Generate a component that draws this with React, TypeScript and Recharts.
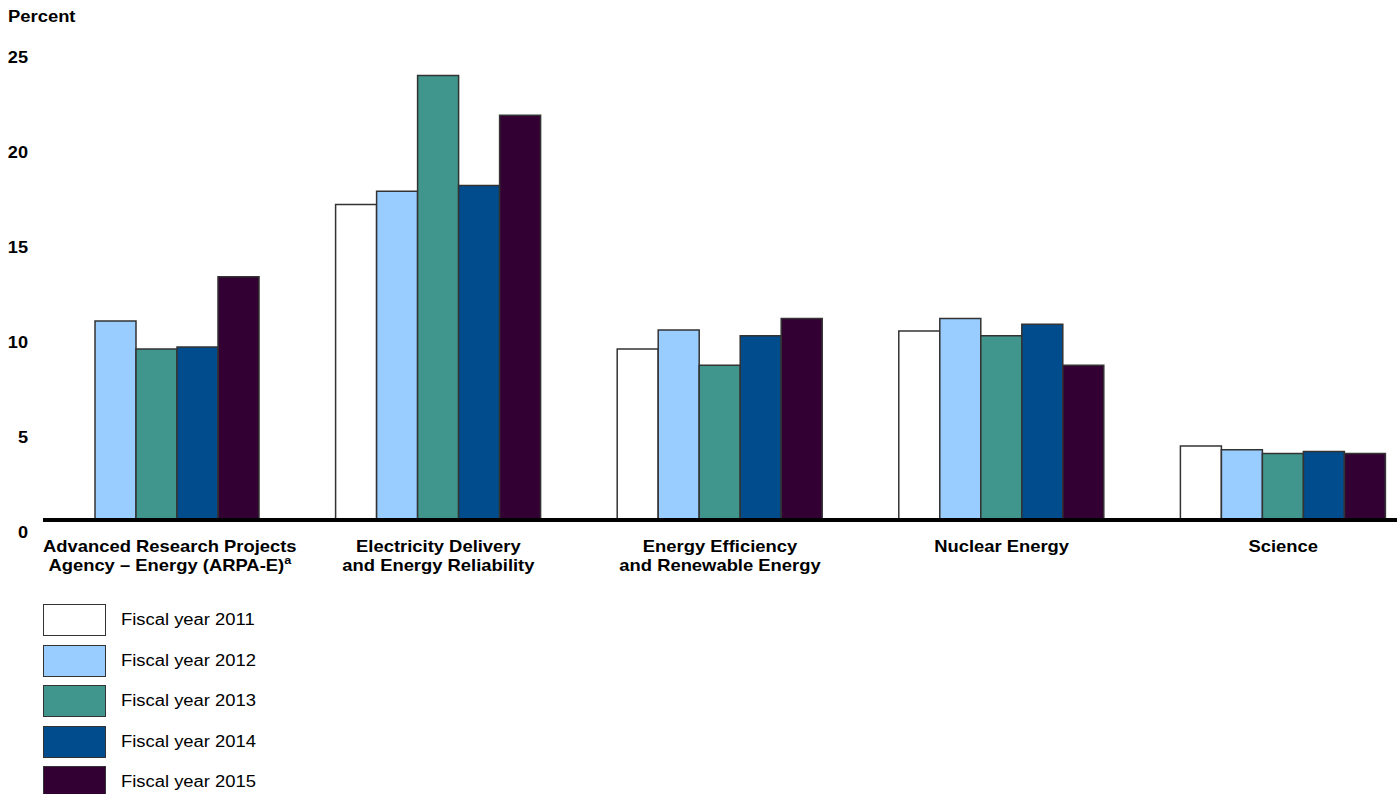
import React from "react";
import { BarChart, Bar, XAxis, YAxis, ReferenceLine } from "recharts";

const categories = [
  "Advanced Research Projects|Agency – Energy (ARPA-E)",
  "Electricity Delivery|and Energy Reliability",
  "Energy Efficiency|and Renewable Energy",
  "Nuclear Energy",
  "Science",
];
const fy2011 = [0, 16.6, 9.0, 9.95, 3.9];
const fy2012 = [10.47, 17.3, 10.0, 10.6, 3.7];
const fy2013 = [9.0, 23.4, 8.15, 9.7, 3.5];
const fy2014 = [9.1, 17.6, 9.7, 10.3, 3.6];
const fy2015 = [12.8, 21.3, 10.6, 8.15, 3.5];
const seriesNames = ["Fiscal year 2011", "Fiscal year 2012", "Fiscal year 2013", "Fiscal year 2014", "Fiscal year 2015"];
const seriesColors = ["#FFFFFF", "#99CCFF", "#40968C", "#004C8C", "#330033"];
const yTicks = [0, 5, 10, 15, 20, 25];

const seriesValues = [fy2011, fy2012, fy2013, fy2014, fy2015];
const data = categories.map((c, i) => {
  const row: any = { name: c };
  seriesValues.forEach((vals, s) => {
    row["s" + s] = vals[i];
  });
  return row;
});

const FONT = "'Liberation Sans', Arial, Helvetica, sans-serif";
const SX = 1.15;

const YTick = (props: any) => {
  const { y, payload } = props;
  return (
    <text
      transform={`translate(28, ${y + 18}) scale(1.1, 1)`}
      textAnchor="end"
      fontFamily={FONT}
      fontWeight="bold"
      fontSize={16.5}
      fill="#000"
    >
      {payload.value}
    </text>
  );
};

const XTick = (props: any) => {
  const { x, y, payload, index } = props;
  const lines = String(payload.value).split("|");
  const dx = index === 0 ? 13 : 0;
  return (
    <g>
      {lines.map((ln, i) => (
        <text
          key={i}
          transform={`translate(${x + dx}, ${y + 32 + i * 19}) scale(${SX}, 1)`}
          textAnchor="middle"
          fontFamily={FONT}
          fontWeight="bold"
          fontSize={16}
          fill="#000"
        >
          {ln}
          {index === 0 && i === 1 ? (
            <tspan fontSize={11} dy={-7}>a</tspan>
          ) : null}
        </text>
      ))}
    </g>
  );
};

const LegendBlock = () => (
  <div style={{ position: "absolute", left: 43, top: 600, fontFamily: FONT }}>
    {seriesNames.map((n, i) => (
      <div key={n} style={{ display: "flex", alignItems: "center", height: 40.5 }}>
        <div
          style={{
            width: 63,
            height: 32,
            background: seriesColors[i],
            border: "1px solid #333",
            boxSizing: "border-box",
            flexShrink: 0,
          }}
        />
        <span
          style={{
            marginLeft: 15,
            fontSize: 16,
            color: "#000",
            display: "inline-block",
            transform: `scaleX(${SX})`,
            transformOrigin: "left center",
            whiteSpace: "nowrap",
          }}
        >
          {n}
        </span>
      </div>
    ))}
  </div>
);

export default function App() {
  return (
    <div style={{ position: "absolute", left: 0, top: 0, width: 1400, height: 794, overflow: "hidden", background: "#fff" }}>
      <div
        style={{
          position: "absolute",
          left: 8,
          top: 8,
          fontFamily: FONT,
          fontWeight: "bold",
          fontSize: 16,
          color: "#000",
          transform: `scaleX(${SX})`,
          transformOrigin: "left center",
          zIndex: 2,
        }}
      >
        Percent
      </div>
      <BarChart
        width={1400}
        height={794}
        data={data}
        margin={{ top: 45, right: 3, bottom: 244, left: 0 }}
        barCategoryGap={38}
        barGap={0}
      >
        <XAxis
          dataKey="name"
          axisLine={false}
          tickLine={false}
          tickSize={0}
          tickMargin={0}
          interval={0}
          height={30}
          padding={{ left: -27, right: -27 }}
          tick={<XTick />}
        />
        <YAxis
          width={43}
          domain={[0, 25]}
          ticks={yTicks}
          axisLine={false}
          tickLine={false}
          tick={<YTick />}
          interval={0}
        />
        {seriesNames.map((n, i) => (
          <Bar
            key={n}
            dataKey={"s" + i}
            name={n}
            fill={seriesColors[i]}
            stroke="#333"
            strokeWidth={1.5}
            isAnimationActive={false}
          />
        ))}
        <ReferenceLine y={0} stroke="#000" strokeWidth={4} />
      </BarChart>
      <LegendBlock />
    </div>
  );
}
